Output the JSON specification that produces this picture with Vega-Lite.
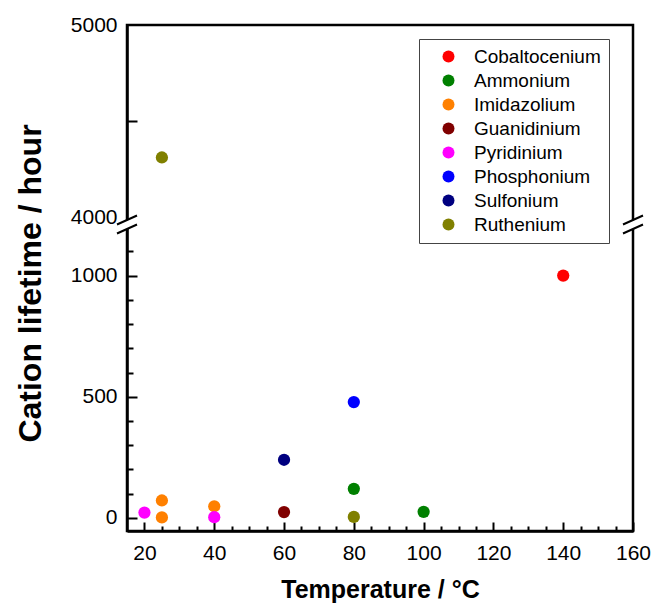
{
  "$schema": "https://vega.github.io/schema/vega-lite/v6.json",
  "width": 506,
  "height": 506,
  "autosize": {"type": "none"},
  "padding": {"left": 127, "top": 25, "right": 21, "bottom": 73},
  "background": "white",
  "config": {
    "font": "Liberation Sans",
    "view": {"stroke": "black", "strokeWidth": 2.5},
    "axis": {
      "domainColor": "black", "domainWidth": 2.5, "tickColor": "black", "tickWidth": 2,
      "labelColor": "black", "titleColor": "black", "grid": false,
      "labelFont": "Liberation Sans", "labelFontSize": 21,
      "titleFont": "Liberation Sans", "titleFontWeight": "bold",
      "labelFlush": false, "labelOverlap": false
    }
  },
  "layer": [
    {
      "data": {"values": [
        {"cation": "Cobaltocenium", "temperature": 140, "lifetime": 1000},
        {"cation": "Ammonium", "temperature": 80, "lifetime": 120},
        {"cation": "Ammonium", "temperature": 100, "lifetime": 25},
        {"cation": "Imidazolium", "temperature": 25, "lifetime": 72},
        {"cation": "Imidazolium", "temperature": 25, "lifetime": 2},
        {"cation": "Imidazolium", "temperature": 40, "lifetime": 48},
        {"cation": "Guanidinium", "temperature": 60, "lifetime": 24},
        {"cation": "Pyridinium", "temperature": 20, "lifetime": 22},
        {"cation": "Pyridinium", "temperature": 40, "lifetime": 3},
        {"cation": "Phosphonium", "temperature": 80, "lifetime": 478},
        {"cation": "Sulfonium", "temperature": 60, "lifetime": 240},
        {"cation": "Ruthenium", "temperature": 25, "lifetime": 4310},
        {"cation": "Ruthenium", "temperature": 80, "lifetime": 4}
      ]},
      "mark": {"type": "point", "filled": true, "size": 150, "opacity": 1},
      "encoding": {
        "x": {
          "field": "temperature", "type": "quantitative",
          "scale": {"domain": [15, 160], "nice": false, "zero": false},
          "axis": {
            "title": "Temperature / °C",
            "values": [20,25,30,35,40,45,50,55,60,65,70,75,80,85,90,95,100,105,110,115,120,125,130,135,140,145,150,155,160],
            "tickSize": {"condition": {"test": "datum.value % 20 === 0", "value": -9}, "value": -5},
            "labelExpr": "datum.value % 20 === 0 ? datum.label : ''",
            "labelPadding": 20, "labelOverlap": false, "labelFlush": false,
            "titleFontSize": 25, "titleY": 66, "titleBaseline": "alphabetic"
          }
        },
        "y": {
          "field": "lifetime", "type": "quantitative",
          "scale": {"domain": [-54, 1180, 4000, 5000], "range": [506, 207, 192, 0], "nice": false, "zero": false},
          "axis": {
            "title": "Cation lifetime / hour",
            "values": [0,100,200,300,400,500,600,700,800,900,1000,1100,4000,4500,5000],
            "tickSize": {"condition": {"test": "datum.value % 500 === 0", "value": -10}, "value": -6},
            "tickOpacity": {"condition": {"test": "datum.value === 4000 || datum.value === 5000", "value": 0}, "value": 1},
            "labelExpr": "indexof([0,500,1000,4000,5000], datum.value) >= 0 ? '' + datum.value : ''",
            "labelPadding": 20, "labelOverlap": false, "labelFlush": false,
            "titleFontSize": 32, "titleX": -87, "titleY": 258, "titleAngle": -90, "titleBaseline": "alphabetic"
          }
        },
        "color": {
          "field": "cation", "type": "nominal",
          "scale": {
            "domain": ["Cobaltocenium","Ammonium","Imidazolium","Guanidinium","Pyridinium","Phosphonium","Sulfonium","Ruthenium"],
            "range": ["#FF0000","#008000","#FF8000","#800000","#FF00FF","#0000FF","#000080","#808000"]
          },
          "legend": {
            "title": null, "orient": "none", "legendX": 292, "legendY": 14,
            "strokeColor": "#444444", "fillColor": "white", "padding": 8,
            "symbolOffset": 12, "symbolType": "circle", "symbolSize": 144, "symbolStrokeWidth": 0,
            "labelFont": "Liberation Sans", "labelFontSize": 19, "labelColor": "black",
            "labelOffset": 16, "rowPadding": 4, "labelLimit": 300
          }
        }
      }
    },
    {
      "data": {"values": [{"edge": 15}, {"edge": 160}]},
      "mark": {"type": "point", "shape": "M-1,0.05L1,-0.85L1,0.05L-1,0.95Z", "filled": true, "color": "white", "strokeWidth": 0, "size": 400, "opacity": 1},
      "encoding": {
        "x": {
          "field": "edge", "type": "quantitative",
          "scale": {"domain": [15, 160], "nice": false, "zero": false},
          "axis": {
            "title": "Temperature / °C",
            "values": [20,25,30,35,40,45,50,55,60,65,70,75,80,85,90,95,100,105,110,115,120,125,130,135,140,145,150,155,160],
            "tickSize": {"condition": {"test": "datum.value % 20 === 0", "value": -9}, "value": -5},
            "labelExpr": "datum.value % 20 === 0 ? datum.label : ''",
            "labelPadding": 20, "labelOverlap": false, "labelFlush": false,
            "titleFontSize": 25, "titleY": 66, "titleBaseline": "alphabetic"
          }
        },
        "y": {
          "datum": 2590, "type": "quantitative",
          "scale": {"domain": [-54, 1180, 4000, 5000], "range": [506, 207, 192, 0], "nice": false, "zero": false},
          "axis": {
            "title": "Cation lifetime / hour",
            "values": [0,100,200,300,400,500,600,700,800,900,1000,1100,4000,4500,5000],
            "tickSize": {"condition": {"test": "datum.value % 500 === 0", "value": -10}, "value": -6},
            "tickOpacity": {"condition": {"test": "datum.value === 4000 || datum.value === 5000", "value": 0}, "value": 1},
            "labelExpr": "indexof([0,500,1000,4000,5000], datum.value) >= 0 ? '' + datum.value : ''",
            "labelPadding": 20, "labelOverlap": false, "labelFlush": false,
            "titleFontSize": 32, "titleX": -87, "titleY": 258, "titleAngle": -90, "titleBaseline": "alphabetic"
          }
        }
      }
    },
    {
      "data": {"values": [{"edge": 15}, {"edge": 160}]},
      "mark": {"type": "point", "shape": "M-1,0L1,-0.9M-1,0.9L1,0", "filled": false, "color": "black", "strokeWidth": 2, "size": 400, "opacity": 1},
      "encoding": {
        "x": {
          "field": "edge", "type": "quantitative",
          "scale": {"domain": [15, 160], "nice": false, "zero": false},
          "axis": {
            "title": "Temperature / °C",
            "values": [20,25,30,35,40,45,50,55,60,65,70,75,80,85,90,95,100,105,110,115,120,125,130,135,140,145,150,155,160],
            "tickSize": {"condition": {"test": "datum.value % 20 === 0", "value": -9}, "value": -5},
            "labelExpr": "datum.value % 20 === 0 ? datum.label : ''",
            "labelPadding": 20, "labelOverlap": false, "labelFlush": false,
            "titleFontSize": 25, "titleY": 66, "titleBaseline": "alphabetic"
          }
        },
        "y": {
          "datum": 2590, "type": "quantitative",
          "scale": {"domain": [-54, 1180, 4000, 5000], "range": [506, 207, 192, 0], "nice": false, "zero": false},
          "axis": {
            "title": "Cation lifetime / hour",
            "values": [0,100,200,300,400,500,600,700,800,900,1000,1100,4000,4500,5000],
            "tickSize": {"condition": {"test": "datum.value % 500 === 0", "value": -10}, "value": -6},
            "tickOpacity": {"condition": {"test": "datum.value === 4000 || datum.value === 5000", "value": 0}, "value": 1},
            "labelExpr": "indexof([0,500,1000,4000,5000], datum.value) >= 0 ? '' + datum.value : ''",
            "labelPadding": 20, "labelOverlap": false, "labelFlush": false,
            "titleFontSize": 32, "titleX": -87, "titleY": 258, "titleAngle": -90, "titleBaseline": "alphabetic"
          }
        }
      }
    }
  ]
}
